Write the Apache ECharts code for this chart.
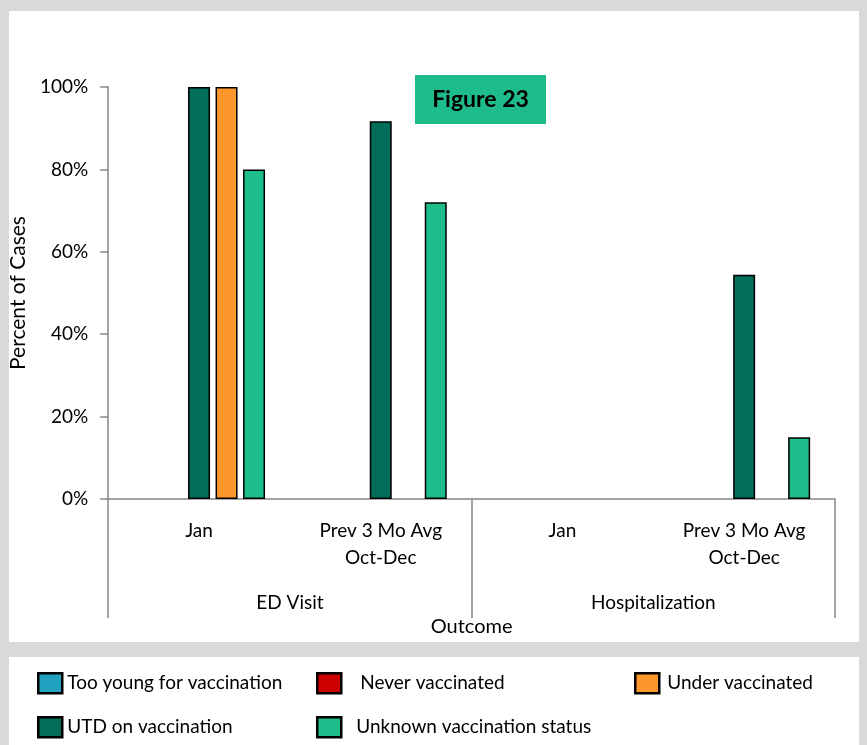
<!DOCTYPE html>
<html>
<head>
<meta charset="utf-8">
<script src="https://cdn.jsdelivr.net/npm/echarts@6/dist/echarts.min.js"></script>
<style>
  html, body { margin: 0; padding: 0; background: #d9d9d9; }
  #chart { width: 867px; height: 745px; }
</style>
</head>
<body>
<div id="chart"></div>
<script>
// Inner (period) and outer (outcome) category levels
const periods = ['Jan', 'Prev 3 Mo Avg\nOct-Dec', 'Jan', 'Prev 3 Mo Avg\nOct-Dec'];
const outcomes = ['ED Visit', 'Hospitalization'];

// Percent of cases per vaccination status (null = no bar)
const tooYoung   = [null, null, null, null];
const neverVacc  = [null, null, null, null];
const utdVacc    = [100, 91.7, null, 54.4];
const underVacc  = [100, null, null, null];
const unknownVac = [80, 72, null, 15];

const yTicks = [0, 20, 40, 60, 80, 100];

const FONT = 'Lato, "Open Sans", sans-serif';
const AXIS_GREY = '#868686';

const chart = echarts.init(document.getElementById('chart'));

function bar(name, color, data) {
  return {
    name: name,
    type: 'bar',
    xAxisIndex: 0,
    data: data,
    barWidth: 22,
    barGap: '25%',
    itemStyle: { color: color, borderColor: '#000', borderWidth: 1.5 }
  };
}

function legendAt(name, left, top, textPad) {
  return {
    data: [name],
    left: left,
    top: top,
    padding: 0,
    itemWidth: 24,
    itemHeight: 20,
    icon: 'rect',
    selectedMode: false,
    itemStyle: { borderColor: '#000', borderWidth: 2.5 },
    textStyle: { fontFamily: FONT, fontSize: 19, color: '#000', padding: textPad || [0, 0, 0, 0] }
  };
}

chart.setOption({
  animation: false,
  backgroundColor: '#d9d9d9',
  graphic: [
    { type: 'rect', z: -10, shape: { x: 9, y: 11, width: 850, height: 631 }, style: { fill: '#fff' } },
    { type: 'rect', z: -10, shape: { x: 9, y: 657, width: 850, height: 90 }, style: { fill: '#fff' } },
    { type: 'rect', z: 10, shape: { x: 415, y: 75, width: 131, height: 49 }, style: { fill: '#1fbc8b' } },
    { type: 'text', z: 11, x: 480.5, y: 100,
      style: { text: 'Figure 23', fontFamily: FONT, fontWeight: 'bold', fontSize: 23, fill: '#000',
               align: 'center', verticalAlign: 'middle' } }
  ],
  legend: [
    legendAt('Too young for vaccination', 37, 672, [0, 0, 0, 0]),
    legendAt('Never vaccinated', 316, 672, [0, 0, 8, 14]),
    legendAt('Under vaccinated', 634, 672, [0, 0, 0, 3]),
    legendAt('UTD on vaccination', 37, 716, [0, 0, 0, 0]),
    legendAt('Unknown vaccination status', 316, 716, [0, 0, 0, 10])
  ],
  grid: { left: 108, right: 32, top: 87, bottom: 246, containLabel: false },
  xAxis: [
    {
      type: 'category',
      data: periods,
      axisLine: { show: true, lineStyle: { color: AXIS_GREY, width: 1.5 } },
      axisTick: { show: false },
      axisLabel: { interval: 0, margin: 18, lineHeight: 27, fontFamily: FONT, fontSize: 19, color: '#000' }
    },
    {
      type: 'category',
      position: 'bottom',
      data: outcomes,
      axisLine: { show: false },
      axisTick: { show: true, interval: 0, length: 119, lineStyle: { color: AXIS_GREY, width: 1.5 } },
      axisLabel: { interval: 0, margin: 94, fontFamily: FONT, fontSize: 19, color: '#000' },
      name: 'Outcome',
      nameLocation: 'middle',
      nameGap: 117,
      nameTextStyle: { fontFamily: FONT, fontSize: 20, color: '#000' }
    }
  ],
  yAxis: {
    type: 'value',
    min: yTicks[0],
    max: yTicks[yTicks.length - 1],
    interval: 20,
    name: 'Percent of Cases',
    nameLocation: 'middle',
    nameRotate: 90,
    nameGap: 72,
    nameTextStyle: { fontFamily: FONT, fontSize: 21, color: '#000' },
    axisLine: { show: true, lineStyle: { color: AXIS_GREY, width: 1.5 } },
    axisTick: { show: true, length: 8, lineStyle: { color: AXIS_GREY, width: 1.5 } },
    splitLine: { show: false },
    axisLabel: { formatter: '{value}%', margin: 20, fontFamily: FONT, fontSize: 19, color: '#000' }
  },
  series: [
    bar('Too young for vaccination', '#1fa1bf', tooYoung),
    bar('Never vaccinated', '#cc0000', neverVacc),
    bar('UTD on vaccination', '#026d59', utdVacc),
    bar('Under vaccinated', '#fd962b', underVacc),
    bar('Unknown vaccination status', '#1ebd8c', unknownVac)
  ]
});
</script>
</body>
</html>
